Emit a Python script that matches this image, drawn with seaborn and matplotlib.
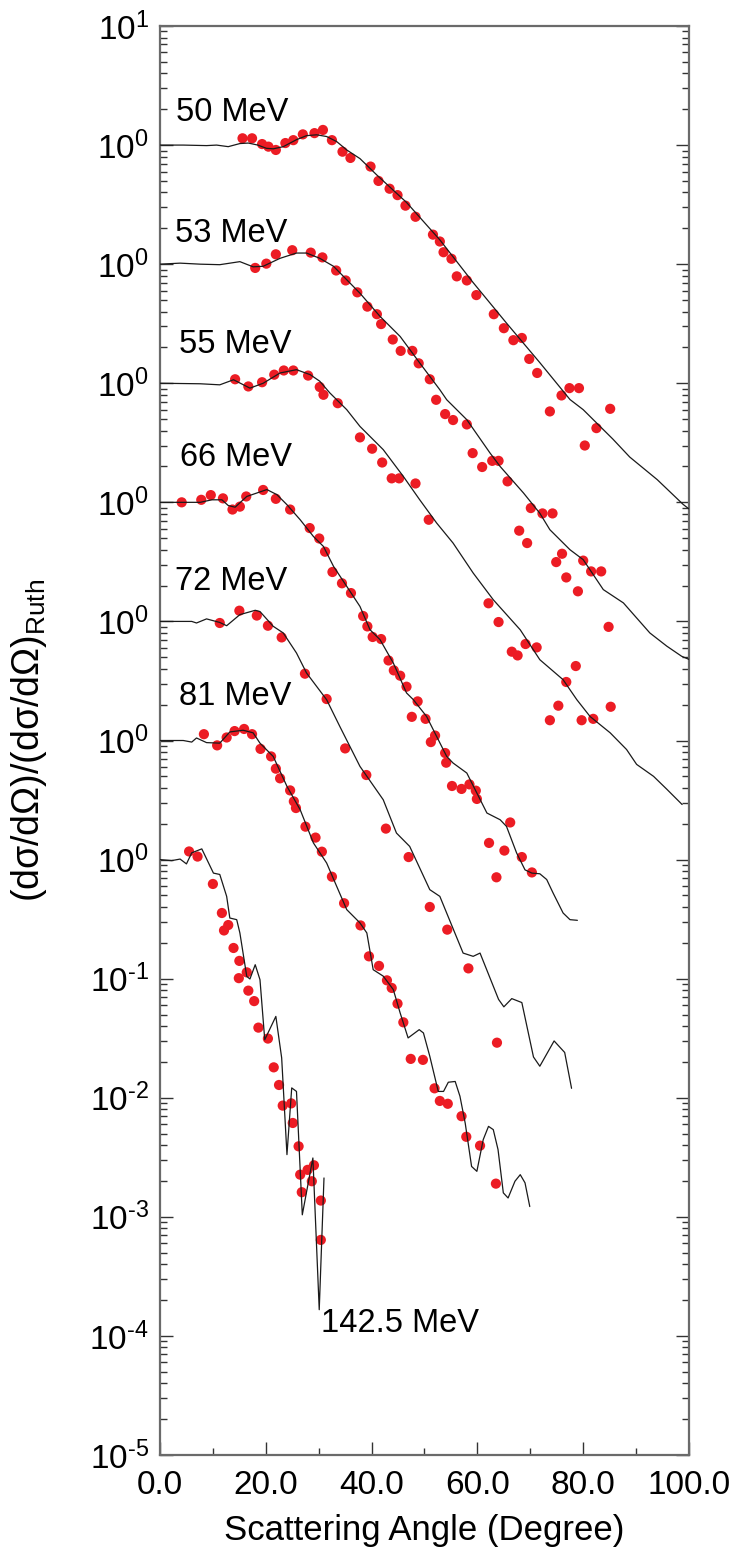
import numpy as np
import pandas as pd
import matplotlib
matplotlib.use("Agg")
import matplotlib.pyplot as plt
import seaborn as sns
from matplotlib.ticker import LogLocator, FixedLocator, FixedFormatter, MultipleLocator, NullFormatter

# ---------------- data (ratio to Rutherford, before display offset) ----------------
energies = ["50 MeV", "53 MeV", "55 MeV", "66 MeV", "72 MeV", "81 MeV", "142.5 MeV"]
offsets = [1e6, 1e5, 1e4, 1e3, 1e2, 1e1, 1e0]

exp_angle_50 = [15.6, 17.4, 19.3, 20.5, 21.9, 23.7, 25.2, 27.0, 29.2, 30.8, 32.5, 34.5, 36.0, 39.8, 41.3,
                43.4, 44.9, 46.4, 48.3, 51.6, 52.9, 53.6, 55.1, 56.1, 58.0, 59.8, 63.1, 65.0, 66.8, 68.4,
                69.8, 71.3, 73.7, 75.9, 77.4, 79.2, 80.3, 82.5, 85.1]
exp_ratio_50 = [1.14, 1.14, 1.02, 0.97, 0.91, 1.04, 1.10, 1.23, 1.26, 1.34, 1.10, 0.88, 0.78, 0.66, 0.50,
                0.43, 0.38, 0.31, 0.25, 0.177, 0.155, 0.126, 0.111, 0.079, 0.073, 0.055, 0.038, 0.029, 0.023, 0.024,
                0.016, 0.0122, 0.0058, 0.0079, 0.0091, 0.0091, 0.0030, 0.0042, 0.0061]
th_angle_50 = [0, 4.4, 8.8, 10.7, 12.9, 15.1, 16.7, 18.5, 20.1, 21.4, 23.3, 25.8, 27.7, 29.6, 31.5, 33.4,
               35.3, 37.8, 41.0, 46.6, 52.9, 59.2, 65.5, 71.8, 77.5, 80.0, 85.6, 88.8, 94.0, 98.9, 100]
th_ratio_50 = [1.0, 1.0, 0.99, 1.0, 0.97, 1.03, 1.04, 1.0, 0.94, 0.93, 0.97, 1.11, 1.20, 1.22, 1.18, 1.07,
               0.91, 0.77, 0.56, 0.33, 0.160, 0.070, 0.032, 0.0149, 0.0073, 0.0060, 0.0034, 0.0024, 0.00155,
               0.00096, 0.00088]

exp_angle_53 = [18.0, 20.1, 21.9, 25.0, 28.5, 30.7, 33.3, 35.1, 37.3, 39.2, 41.0, 41.8, 44.0, 45.5, 47.7,
                48.9, 51.0, 52.2, 53.9, 55.4, 58.0, 59.1, 60.9, 62.8, 64.0, 65.7, 70.1, 67.9, 69.4, 72.3,
                74.2, 76.0, 74.9, 80.0, 76.8, 81.5, 83.4, 79.0, 84.8]
exp_ratio_53 = [0.93, 1.01, 1.21, 1.31, 1.25, 1.14, 0.885, 0.73, 0.58, 0.44, 0.38, 0.314, 0.233, 0.187, 0.187,
                0.147, 0.108, 0.0726, 0.0551, 0.0491, 0.0451, 0.0259, 0.0198, 0.0223, 0.0223, 0.0150, 0.00895,
                0.00578, 0.00455, 0.00807, 0.00807, 0.00370, 0.00315, 0.00324, 0.00234, 0.00263, 0.00263,
                0.00179, 0.00090]
th_angle_53 = [0, 3.8, 7.6, 11.3, 15.1, 17.6, 19.5, 22.7, 25.8, 27.7, 30.2, 32.8, 35.3, 37.8, 41.6, 45.4,
               49.1, 52.9, 54.2, 58.0, 62.4, 64.3, 68.7, 71.8, 73.7, 77.5, 80.0, 83.8, 87.6, 92.6, 95.8,
               98.6, 100]
th_ratio_53 = [1.0, 1.02, 1.0, 0.99, 1.05, 0.95, 0.96, 1.12, 1.24, 1.24, 1.12, 0.96, 0.74, 0.57, 0.364, 0.247,
               0.148, 0.0882, 0.0727, 0.0494, 0.0259, 0.0200, 0.0120, 0.0081, 0.00589, 0.00400, 0.00330,
               0.00185, 0.00143, 0.00080, 0.00062, 0.00051, 0.00048]

exp_angle_55 = [14.2, 16.7, 19.3, 21.6, 23.4, 25.2, 28.0, 30.2, 30.9, 33.6, 37.8, 40.1, 42.0, 43.8, 45.2,
                48.3, 50.8, 62.1, 64.0, 66.5, 67.6, 69.1, 71.2, 78.6, 76.8, 75.3, 85.2, 73.7, 79.7, 81.9]
exp_ratio_55 = [1.08, 0.94, 1.02, 1.18, 1.28, 1.28, 1.16, 0.93, 0.80, 0.68, 0.351, 0.282, 0.216, 0.159, 0.159,
                0.144, 0.0714, 0.0142, 0.00988, 0.00557, 0.00518, 0.00646, 0.00605, 0.00422, 0.00310, 0.00196,
                0.00192, 0.00148, 0.00148, 0.00152]
th_angle_55 = [0, 7.6, 11.3, 13.9, 17.0, 19.5, 22.7, 25.8, 28.4, 30.2, 32.1, 35.3, 37.8, 42.2, 46.0, 49.1,
               52.3, 55.4, 59.2, 63.0, 68.1, 71.8, 76.2, 78.8, 81.3, 85.1, 88.2, 90.1, 93.3, 95.8, 98.7]
th_ratio_55 = [1.0, 0.99, 0.97, 1.07, 0.91, 1.0, 1.22, 1.30, 1.18, 1.04, 0.83, 0.60, 0.434, 0.277, 0.165, 0.105,
               0.067, 0.0455, 0.0255, 0.0152, 0.0085, 0.00477, 0.00324, 0.00220, 0.00159, 0.00116, 0.00084,
               0.00063, 0.00050, 0.00039, 0.00029]

exp_angle_66 = [4.1, 7.8, 9.6, 11.9, 13.7, 15.1, 16.3, 19.5, 21.9, 24.6, 28.3, 30.1, 31.2, 32.6, 34.4, 36.1,
                38.4, 39.2, 40.2, 41.8, 43.2, 44.2, 45.4, 46.6, 48.7, 47.6, 50.2, 52.0, 51.2, 53.9, 54.1,
                55.2, 57.0, 58.5, 59.7, 59.9, 66.2, 62.2, 65.1, 68.4, 63.6, 70.3]
exp_ratio_66 = [1.0, 1.05, 1.15, 1.08, 0.87, 0.92, 1.12, 1.27, 1.07, 0.87, 0.608, 0.497, 0.385, 0.260, 0.209,
                0.173, 0.111, 0.0908, 0.0740, 0.0711, 0.0470, 0.0388, 0.0350, 0.0283, 0.0213, 0.0158, 0.0152,
                0.0110, 0.0097, 0.00785, 0.00651, 0.00415, 0.00392, 0.00428, 0.00379, 0.00323, 0.00205,
                0.00138, 0.00119, 0.00105, 0.00071, 0.00078]
th_angle_66 = [0, 7.6, 9.8, 11.7, 12.9, 14.2, 16.4, 20.2, 22.1, 24.0, 26.5, 29.0, 30.9, 32.8, 35.3, 37.8,
               39.7, 41.6, 44.1, 46.6, 47.9, 50.4, 52.3, 54.2, 55.4, 58.0, 59.9, 61.8, 64.3, 65.5, 67.4,
               69.0, 70.3, 71.8, 73.1, 74.3, 76.2, 77.5, 78.9]
th_ratio_66 = [1.0, 1.0, 1.05, 1.05, 0.94, 0.91, 1.12, 1.28, 1.16, 0.955, 0.714, 0.517, 0.426, 0.290, 0.197,
               0.1336, 0.0851, 0.0702, 0.0448, 0.0251, 0.0220, 0.0159, 0.0108, 0.00735, 0.00647, 0.00533,
               0.00362, 0.00246, 0.00216, 0.00190, 0.00114, 0.00082, 0.00077, 0.00076, 0.00068, 0.000525,
               0.000356, 0.000313, 0.000309]

exp_angle_72 = [11.3, 15.0, 18.3, 20.4, 23.0, 27.4, 31.5, 35.0, 39.0, 42.7, 47.0, 51.0, 54.3, 58.3, 63.7]
exp_ratio_72 = [0.97, 1.23, 1.12, 0.92, 0.734, 0.364, 0.223, 0.0858, 0.0513, 0.0182, 0.0105, 0.0040,
                0.00258, 0.00122, 0.00029]
th_angle_72 = [0, 6.0, 6.9, 8.8, 11.3, 12.6, 15.1, 18.0, 18.9, 21.4, 23.3, 25.8, 27.7, 31.5, 34.0, 37.8,
               42.2, 44.7, 47.2, 51.0, 52.9, 57.3, 59.2, 60.5, 64.0, 65.0, 66.5, 68.4, 70.6, 71.8, 74.5,
               76.5, 77.8]
th_ratio_72 = [1.0, 1.0, 0.97, 1.05, 0.98, 0.92, 1.14, 1.24, 1.21, 0.91, 0.80, 0.543, 0.369, 0.220, 0.131,
               0.0606, 0.0318, 0.0167, 0.0129, 0.00559, 0.00491, 0.00164, 0.00154, 0.00164, 0.00067, 0.00058,
               0.00068, 0.00063, 0.00022, 0.000184, 0.00030, 0.00024, 0.00012]

exp_angle_81 = [8.3, 10.8, 12.6, 14.1, 15.9, 17.4, 19.0, 21.0, 21.9, 22.7, 24.6, 25.3, 25.7, 27.5, 29.4, 30.6,
                32.5, 34.8, 37.9, 39.5, 41.4, 42.9, 43.8, 44.9, 46.0, 47.4, 49.7, 51.9, 52.9, 54.4, 57.0,
                57.9, 60.5, 63.5]
exp_ratio_81 = [1.13, 0.91, 1.06, 1.20, 1.25, 1.13, 0.85, 0.735, 0.580, 0.481, 0.381, 0.308, 0.271, 0.189,
                0.153, 0.1165, 0.0718, 0.0430, 0.0280, 0.0154, 0.0128, 0.00968, 0.00836, 0.00617, 0.00430,
                0.00212, 0.00208, 0.00120, 0.00094, 0.00089, 0.00070, 0.00047, 0.000396, 0.000190]
th_angle_81 = [0, 4.4, 6.0, 6.9, 8.8, 11.3, 13.2, 15.7, 17.6, 18.9, 21.4, 24.0, 26.5, 29.0, 31.5, 33.4,
               35.3, 37.8, 39.1, 40.3, 42.2, 44.1, 45.4, 46.9, 49.0, 49.8, 51.0, 52.6, 53.6, 54.5, 55.8,
               56.7, 57.7, 58.9, 59.9, 61.1, 62.1, 63.0, 63.9, 64.9, 65.8, 67.1, 68.1, 69.0, 69.9]
th_ratio_81 = [1.0, 1.0, 0.97, 1.05, 0.96, 0.95, 1.18, 1.22, 1.16, 0.95, 0.735, 0.412, 0.262, 0.138, 0.0936,
               0.0596, 0.0380, 0.0294, 0.0242, 0.0119, 0.0105, 0.0081, 0.00515, 0.00318, 0.00373, 0.0035,
               0.00223, 0.00113, 0.00113, 0.00135, 0.00137, 0.00103, 0.00061, 0.000265, 0.000241, 0.000445,
               0.000575, 0.00054, 0.000367, 0.000159, 0.000144, 0.000199, 0.000226, 0.000193, 0.000122]

exp_angle_142 = [5.5, 7.1, 10.0, 11.7, 12.9, 12.1, 13.9, 15.0, 14.9, 16.4, 16.7, 17.8, 18.6, 20.4, 21.5,
                 22.5, 23.2, 24.8, 25.1, 26.2, 26.5, 26.8, 27.9, 29.1, 28.7, 30.4, 30.4]
exp_ratio_142 = [1.17, 1.06, 0.624, 0.356, 0.282, 0.254, 0.181, 0.141, 0.101, 0.113, 0.0793, 0.0648, 0.0388,
                 0.0314, 0.0180, 0.0128, 0.00859, 0.00897, 0.00614, 0.00391, 0.00226, 0.00161, 0.00248,
                 0.00271, 0.00199, 0.00137, 0.00064]
th_angle_142 = [0, 2.2, 3.8, 5.0, 6.0, 7.9, 10.1, 11.3, 12.6, 13.2, 14.5, 15.1, 16.4, 17.0, 18.0, 18.9,
                19.8, 21.9, 23.0, 24.0, 24.9, 25.8, 26.9, 28.9, 30.1, 31.0]
th_ratio_142 = [1.0, 0.98, 1.01, 0.92, 1.14, 1.23, 0.77, 0.75, 0.491, 0.323, 0.313, 0.242, 0.1045, 0.0994,
                0.131, 0.098, 0.0307, 0.0482, 0.0216, 0.00333, 0.0121, 0.0113, 0.00104, 0.00312, 0.000166,
                0.00212]

exp_angles = [exp_angle_50, exp_angle_53, exp_angle_55, exp_angle_66, exp_angle_72, exp_angle_81, exp_angle_142]
exp_ratios = [exp_ratio_50, exp_ratio_53, exp_ratio_55, exp_ratio_66, exp_ratio_72, exp_ratio_81, exp_ratio_142]
th_angles = [th_angle_50, th_angle_53, th_angle_55, th_angle_66, th_angle_72, th_angle_81, th_angle_142]
th_ratios = [th_ratio_50, th_ratio_53, th_ratio_55, th_ratio_66, th_ratio_72, th_ratio_81, th_ratio_142]

x_ticks = [0, 20, 40, 60, 80, 100]
x_tick_labels = ["0.0", "20.0", "40.0", "60.0", "80.0", "100.0"]
y_tick_exps = list(range(-5, 8))
y_tick_labels = ["$10^{‐5}$", "$10^{‐4}$", "$10^{‐3}$", "$10^{‐2}$", "$10^{‐1}$",
                 "$10^{0}$", "$10^{0}$", "$10^{0}$", "$10^{0}$", "$10^{0}$", "$10^{0}$", "$10^{0}$", "$10^{1}$"]

# ---------------- tables ----------------
exp_rows, th_rows = [], []
for e, off, xa, ya in zip(energies, offsets, exp_angles, exp_ratios):
    for a, r in zip(xa, ya):
        exp_rows.append({"energy": e, "angle": a, "value": r * off})
for e, off, xa, ya in zip(energies, offsets, th_angles, th_ratios):
    for a, r in zip(xa, ya):
        th_rows.append({"energy": e, "angle": a, "value": r * off})
exp_df = pd.DataFrame(exp_rows)
th_df = pd.DataFrame(th_rows)

# ---------------- style ----------------
sns.set_theme(style="ticks")
plt.rcParams["font.family"] = ["Liberation Sans", "DejaVu Sans"]
plt.rcParams["mathtext.fontset"] = "custom"
plt.rcParams["mathtext.rm"] = "Liberation Sans"
plt.rcParams["mathtext.it"] = "Liberation Sans:italic"
plt.rcParams["mathtext.bf"] = "Liberation Sans:bold"
plt.rcParams["text.color"] = "black"
plt.rcParams["axes.labelcolor"] = "black"
plt.rcParams["xtick.labelcolor"] = "black"
plt.rcParams["ytick.labelcolor"] = "black"

fig = plt.figure(figsize=(7.38, 15.56), dpi=100)
ax = fig.add_axes([160 / 738, 1 - 1455 / 1556, (689 - 160) / 738, (1455 - 26) / 1556])

for e in energies:
    sub = th_df[th_df["energy"] == e]
    sns.lineplot(data=sub, x="angle", y="value", ax=ax, color="#1a1a1a", linewidth=0.9,
                 sort=False, estimator=None, legend=False, zorder=3)
sns.scatterplot(data=exp_df, x="angle", y="value", ax=ax, color="#ec1c24", s=54,
                linewidth=0, edgecolor="none", legend=False, zorder=2)

ax.set_yscale("log")
ax.set_xlim(0, 100)
ax.set_ylim(1e-5, 1e7)

ax.xaxis.set_major_locator(FixedLocator(x_ticks))
ax.xaxis.set_major_formatter(FixedFormatter(x_tick_labels))
ax.xaxis.set_minor_locator(MultipleLocator(10))
ax.yaxis.set_major_locator(FixedLocator([10.0 ** k for k in y_tick_exps]))
ax.yaxis.set_major_formatter(FixedFormatter(y_tick_labels))
ax.yaxis.set_minor_locator(LogLocator(base=10, subs=np.arange(2, 10), numticks=100))
ax.yaxis.set_minor_formatter(NullFormatter())

ax.tick_params(which="both", direction="in", left=True, right=True, top=False, bottom=True,
               color="#333333", width=1.0, labelcolor="black")
ax.tick_params(which="major", length=9.6, labelsize=24)
ax.tick_params(which="minor", length=4.8)
ax.tick_params(axis="y", which="major", pad=8)
ax.tick_params(axis="x", which="major", pad=11)
for sp in ax.spines.values():
    sp.set_color("#6a6a6a")
    sp.set_linewidth(1.6)

ax.set_xlabel("Scattering Angle (Degree)", fontsize=25, labelpad=9, color="black")
ax.set_ylabel("")
fig.text(29 / 738, 1 - 740.5 / 1556, "(dσ/dΩ)/(dσ/dΩ)$_{\\mathrm{Ruth}}$", rotation=90,
         ha="center", va="center", fontsize=27, color="black")

# curve labels
label_x = [3.0, 2.8, 3.5, 3.8, 2.8, 3.5, 30.4]
label_rel = [1.59, 1.55, 1.79, 2.0, 1.84, 1.99, 1.08e-4]
for e, off, lx, lr in zip(energies, offsets, label_x, label_rel):
    ax.text(lx, lr * off, e, fontsize=23.5, ha="left", va="baseline", color="black")

fig.savefig("out.png", dpi=100)
